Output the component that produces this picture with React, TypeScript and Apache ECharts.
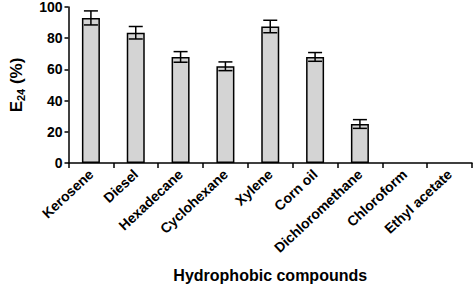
import React, { useEffect, useRef } from "react";
import * as echarts from "echarts";

const categories = ["Kerosene", "Diesel", "Hexadecane", "Cyclohexane", "Xylene", "Corn oil", "Dichloromethane", "Chloroform", "Ethyl acetate"];
const values = [93, 83.5, 68, 62, 87.5, 68, 25, 0, 0];
const errors = [4.5, 4, 3.4, 2.8, 4, 2.8, 2.8, 0, 0];
const yTicks = [0, 20, 40, 60, 80, 100];

export default function App() {
  const ref = useRef<HTMLDivElement>(null);
  useEffect(() => {
    if (!ref.current) return;
    const chart = echarts.init(ref.current, undefined, { renderer: "svg" });
    const errData = values.map((v, i) => [i, v - errors[i], v + errors[i]]).filter((d, i) => errors[i] > 0);
    const font = "Liberation Sans, Arial, sans-serif";
    chart.setOption({
      animation: false,
      grid: { left: 57, right: 2, top: 6, bottom: 122, containLabel: false },
      xAxis: {
        type: "category",
        data: categories,
        axisLine: { lineStyle: { color: "#000", width: 1.5 } },
        axisTick: { show: true, alignWithLabel: false, length: 5, lineStyle: { color: "#000", width: 1.5 } },
        axisLabel: { rotate: 43, interval: 0, color: "#000", fontWeight: "bold", fontSize: 14, fontFamily: font, margin: 9 },
        name: "Hydrophobic compounds",
        nameLocation: "middle",
        nameGap: 104,
        nameTextStyle: { color: "#000", fontWeight: "bold", fontSize: 16, fontFamily: font },
      },
      yAxis: {
        type: "value",
        min: 0,
        max: 100,
        interval: 20,
        splitLine: { show: false },
        axisLine: { show: true, lineStyle: { color: "#000", width: 1.5 } },
        axisTick: { show: true, length: 4, lineStyle: { color: "#000", width: 1.5 } },
        axisLabel: {
          color: "#000",
          fontWeight: "bold",
          fontSize: 14,
          fontFamily: font,
          margin: 6,
          formatter: (v: number) => (yTicks.includes(v) ? String(v) : ""),
        },
        name: "{b|E}{s|24}{b| (%)}",
        nameLocation: "middle",
        nameGap: 42,
        nameRotate: 90,
        nameTextStyle: {
          rich: {
            b: { color: "#000", fontWeight: "bold", fontSize: 17, fontFamily: font },
            s: { color: "#000", fontWeight: "bold", fontSize: 11, fontFamily: font, verticalAlign: "bottom", padding: [9, 0, 0, 0] },
          },
        },
      },
      series: [
        {
          type: "bar",
          data: values.map((v) => ({ value: v, itemStyle: v === 0 ? { borderWidth: 0, color: "transparent" } : undefined })),
          barWidth: 18,
          itemStyle: { color: "#d4d4d4", borderColor: "#000", borderWidth: 1.5 },
        },
        {
          type: "custom",
          data: errData,
          z: 10,
          renderItem: (params: any, api: any) => {
            const x = api.value(0);
            const lo = api.coord([x, api.value(1)]);
            const hi = api.coord([x, api.value(2)]);
            const hw = 7;
            const style = { stroke: "#000", lineWidth: 1.5 };
            return {
              type: "group",
              children: [
                { type: "line", shape: { x1: lo[0], y1: lo[1], x2: hi[0], y2: hi[1] }, style },
                { type: "line", shape: { x1: hi[0] - hw, y1: hi[1], x2: hi[0] + hw, y2: hi[1] }, style },
                { type: "line", shape: { x1: lo[0] - hw, y1: lo[1], x2: lo[0] + hw, y2: lo[1] }, style },
              ],
            };
          },
        },
      ],
    });
    return () => chart.dispose();
  }, []);
  return <div ref={ref} style={{ width: 474, height: 288, position: "absolute", left: 0, top: 0, background: "#fff" }} />;
}
